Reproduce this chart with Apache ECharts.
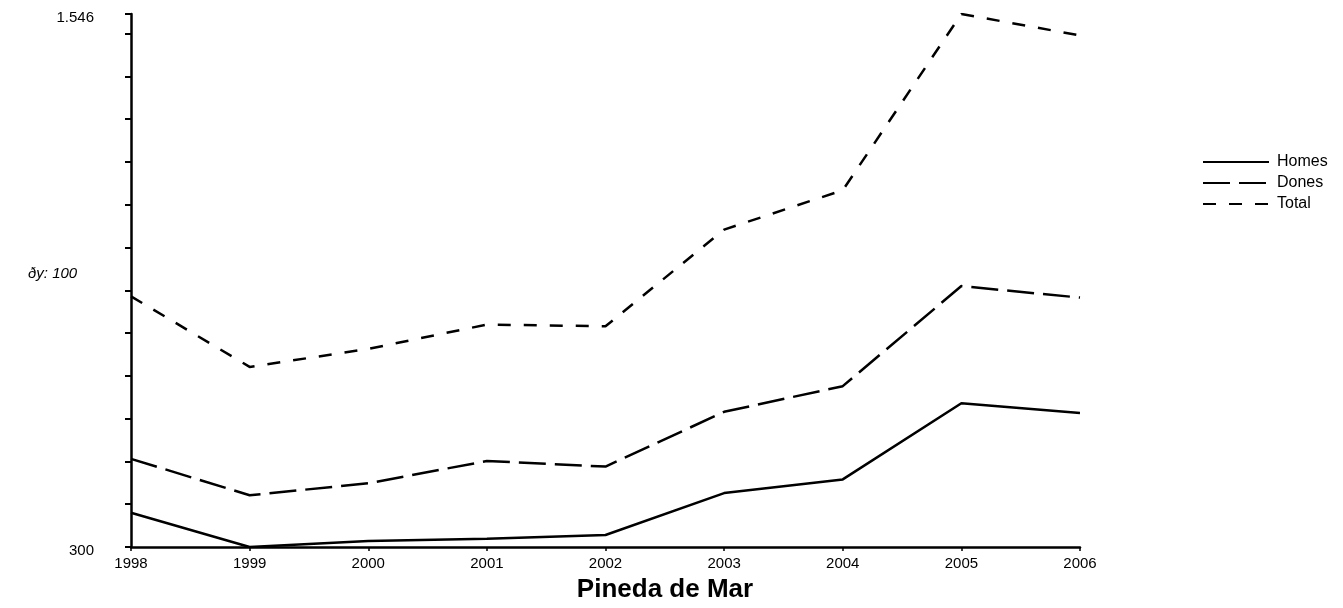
<!DOCTYPE html>
<html>
<head>
<meta charset="utf-8">
<script src="https://cdn.jsdelivr.net/npm/echarts@6/dist/echarts.min.js"></script>
<style>
html,body{margin:0;padding:0;background:#fff;}
#chart{width:1343px;height:608px;}
</style>
</head>
<body>
<div id="chart"></div>
<script>
const years = ['1998','1999','2000','2001','2002','2003','2004','2005','2006'];
const homes = [380, 300, 314, 319, 328, 426, 458, 636, 613];
const dones = [506, 421, 449, 501, 488, 616, 676, 910, 883];
const total = [886, 721, 763, 820, 816, 1042, 1134, 1546, 1496];
const yMin = 300;
const yMax = 1546;
const yStep = 100;
const title = 'Pineda de Mar';
const stepLabel = 'ðy: 100';

const FONT = '"Liberation Sans", Arial, sans-serif';
const chart = echarts.init(document.getElementById('chart'), null, {renderer: 'canvas'});
function fmt(v){
  return String(v).replace(/\B(?=(\d{3})+(?!\d))/g, '.');
}
chart.setOption({
  animation: false,
  backgroundColor: '#fff',
  grid: {left: 131, right: 263, top: 14, bottom: 61, containLabel: false},
  xAxis: {
    type: 'category',
    data: years,
    boundaryGap: false,
    axisLine: {lineStyle: {color: '#000', width: 2.5}},
    axisTick: {show: true, length: 4, lineStyle: {color: '#000', width: 1.5}},
    axisLabel: {color: '#000', fontFamily: FONT, fontSize: 15, margin: 9, interval: 0}
  },
  yAxis: {
    type: 'value',
    min: yMin,
    max: yMax,
    interval: yStep,
    splitLine: {show: false},
    axisLine: {show: true, lineStyle: {color: '#000', width: 2.5}},
    axisTick: {show: true, length: 6, lineStyle: {color: '#000', width: 2}},
    axisLabel: {
      color: '#000', fontFamily: FONT, fontSize: 15, margin: 37,
      showMinLabel: true, showMaxLabel: true,
      verticalAlign: 'top', lineHeight: 8,
      formatter: function(v){ return (v === yMin || v === yMax) ? fmt(v) : ''; }
    }
  },
  legend: {
    orient: 'vertical',
    left: 1197,
    top: 149,
    itemWidth: 66,
    itemHeight: 14,
    itemGap: 5,
    itemStyle: {opacity: 0},
    textStyle: {color: '#000', fontFamily: FONT, fontSize: 16, padding: [0,0,0,3]},
    data: ['Homes','Dones','Total']
  },
  graphic: [
    {type: 'text', left: 28, top: 266, style: {text: stepLabel, fill: '#000', font: 'italic 15px ' + FONT}},
    {type: 'text', x: 665, y: 590, style: {text: title, fill: '#000', font: 'bold 26px ' + FONT, textAlign: 'center', textVerticalAlign: 'middle'}}
  ],
  series: [
    {name: 'Homes', type: 'line', data: homes, symbol: 'none', lineStyle: {color: '#000', width: 2.5, type: 'solid'}, itemStyle: {color: '#000'}},
    {name: 'Dones', type: 'line', data: dones, symbol: 'none', lineStyle: {color: '#000', width: 2.5, type: [27, 9]}, itemStyle: {color: '#000'}},
    {name: 'Total', type: 'line', data: total, symbol: 'none', lineStyle: {color: '#000', width: 2.5, type: [13, 13]}, itemStyle: {color: '#000'}}
  ]
});
</script>
</body>
</html>
